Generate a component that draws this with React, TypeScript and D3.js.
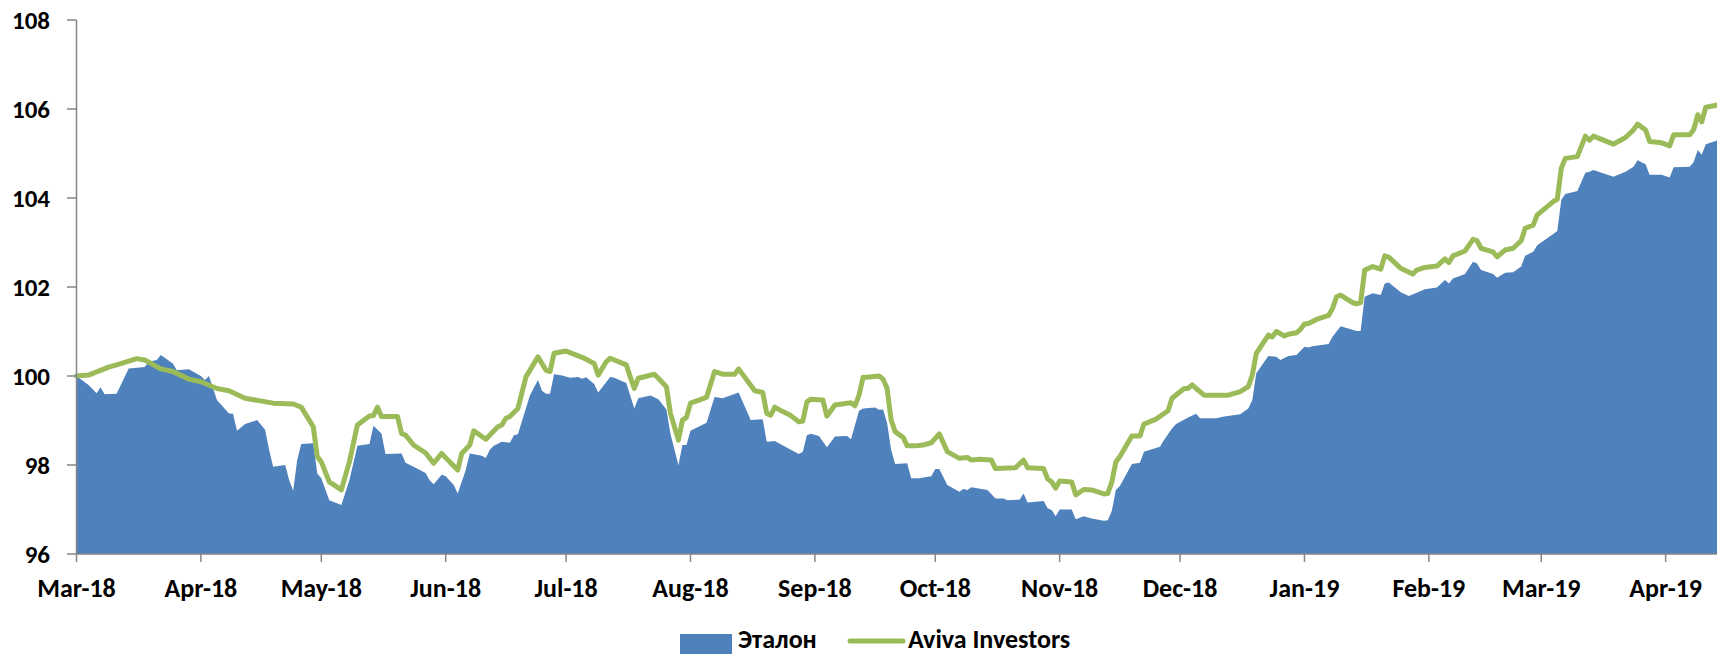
import React from "react";
import * as d3 from "d3";

// Эталон (benchmark), area series
const etalon: [string, number][] = [
  ["2018-03-01",100.0],["2018-03-04",99.8],["2018-03-06",99.61],["2018-03-07",99.75],["2018-03-08",99.59],["2018-03-11",99.6],["2018-03-14",100.17],["2018-03-18",100.2],["2018-03-19",100.32],["2018-03-21",100.36],["2018-03-22",100.47],["2018-03-25",100.28],["2018-03-26",100.13],["2018-03-29",100.15],
  ["2018-04-01",100.0],["2018-04-02",99.91],["2018-04-03",100.0],["2018-04-05",99.46],["2018-04-08",99.16],["2018-04-09",99.15],["2018-04-10",98.77],["2018-04-12",98.92],["2018-04-15",99.01],["2018-04-17",98.79],["2018-04-18",98.34],["2018-04-19",97.96],["2018-04-22",98.0],["2018-04-23",97.66],["2018-04-24",97.42],["2018-04-25",98.11],["2018-04-26",98.47],["2018-04-29",98.49],["2018-04-30",97.81],
  ["2018-05-01",97.7],["2018-05-03",97.21],["2018-05-06",97.1],["2018-05-08",97.66],["2018-05-10",98.43],["2018-05-13",98.47],["2018-05-14",98.88],["2018-05-16",98.71],["2018-05-17",98.25],["2018-05-21",98.26],["2018-05-22",98.05],["2018-05-24",97.96],["2018-05-27",97.82],["2018-05-28",97.66],["2018-05-29",97.57],["2018-05-31",97.78],
  ["2018-06-01",97.75],["2018-06-03",97.55],["2018-06-04",97.36],["2018-06-06",97.89],["2018-06-07",98.26],["2018-06-10",98.21],["2018-06-11",98.16],["2018-06-12",98.34],["2018-06-13",98.43],["2018-06-15",98.52],["2018-06-17",98.5],["2018-06-18",98.67],["2018-06-19",98.69],["2018-06-22",99.57],["2018-06-24",99.91],["2018-06-25",99.67],["2018-06-26",99.6],["2018-06-27",99.6],["2018-06-28",100.04],["2018-06-30",100.01],
  ["2018-07-02",99.96],["2018-07-04",99.98],["2018-07-05",99.94],["2018-07-06",99.97],["2018-07-08",99.82],["2018-07-09",99.63],["2018-07-12",99.98],["2018-07-13",99.96],["2018-07-16",99.84],["2018-07-18",99.27],["2018-07-19",99.5],["2018-07-22",99.56],["2018-07-24",99.48],["2018-07-26",99.25],["2018-07-27",98.7],["2018-07-29",98.0],["2018-07-30",98.45],["2018-07-31",98.45],
  ["2018-08-01",98.77],["2018-08-05",98.95],["2018-08-07",99.53],["2018-08-09",99.5],["2018-08-13",99.63],["2018-08-16",99.01],["2018-08-19",99.03],["2018-08-20",98.52],["2018-08-22",98.54],["2018-08-26",98.34],["2018-08-28",98.25],["2018-08-29",98.3],["2018-08-30",98.67],["2018-08-31",98.7],
  ["2018-09-02",98.65],["2018-09-04",98.4],["2018-09-06",98.64],["2018-09-09",98.65],["2018-09-10",98.58],["2018-09-12",99.22],["2018-09-13",99.27],["2018-09-16",99.29],["2018-09-17",99.24],["2018-09-18",99.25],["2018-09-19",98.94],["2018-09-20",98.34],["2018-09-21",98.02],["2018-09-24",98.04],["2018-09-25",97.7],["2018-09-27",97.7],["2018-09-28",97.72],["2018-09-30",97.75],
  ["2018-10-01",97.91],["2018-10-02",97.91],["2018-10-04",97.55],["2018-10-07",97.4],["2018-10-08",97.46],["2018-10-09",97.44],["2018-10-10",97.5],["2018-10-14",97.44],["2018-10-16",97.25],["2018-10-18",97.25],["2018-10-19",97.21],["2018-10-22",97.22],["2018-10-23",97.36],["2018-10-24",97.16],["2018-10-28",97.19],["2018-10-29",97.03],["2018-10-30",96.99],["2018-10-31",96.85],
  ["2018-11-01",97.0],["2018-11-04",97.0],["2018-11-05",96.78],["2018-11-07",96.85],["2018-11-09",96.8],["2018-11-12",96.75],["2018-11-13",96.76],["2018-11-14",96.97],["2018-11-15",97.44],["2018-11-16",97.53],["2018-11-19",98.02],["2018-11-21",98.05],["2018-11-22",98.3],["2018-11-26",98.41],["2018-11-27",98.56],["2018-11-29",98.82],["2018-11-30",98.92],
  ["2018-12-03",99.07],["2018-12-05",99.15],["2018-12-06",99.05],["2018-12-10",99.05],["2018-12-12",99.09],["2018-12-16",99.14],["2018-12-18",99.27],["2018-12-19",99.46],["2018-12-20",100.06],["2018-12-23",100.45],["2018-12-25",100.43],["2018-12-26",100.36],["2018-12-28",100.45],["2018-12-30",100.47],
  ["2019-01-01",100.66],["2019-01-02",100.64],["2019-01-03",100.67],["2019-01-07",100.72],["2019-01-08",100.88],["2019-01-10",101.12],["2019-01-14",101.01],["2019-01-15",101.01],["2019-01-16",101.78],["2019-01-18",101.86],["2019-01-20",101.82],["2019-01-21",102.08],["2019-01-22",102.1],["2019-01-25",101.88],["2019-01-27",101.8],["2019-01-29",101.87],["2019-01-31",101.95],
  ["2019-02-03",101.99],["2019-02-05",102.16],["2019-02-06",102.08],["2019-02-07",102.19],["2019-02-10",102.29],["2019-02-12",102.57],["2019-02-13",102.53],["2019-02-14",102.38],["2019-02-17",102.29],["2019-02-18",102.21],["2019-02-20",102.32],["2019-02-22",102.33],["2019-02-24",102.46],["2019-02-25",102.7],["2019-02-27",102.79],["2019-02-28",102.94],
  ["2019-03-04",103.19],["2019-03-05",103.26],["2019-03-06",103.96],["2019-03-07",104.09],["2019-03-10",104.16],["2019-03-12",104.57],["2019-03-13",104.59],["2019-03-14",104.63],["2019-03-19",104.48],["2019-03-22",104.59],["2019-03-24",104.7],["2019-03-25",104.85],["2019-03-27",104.76],["2019-03-28",104.52],["2019-03-31",104.52],
  ["2019-04-02",104.46],["2019-04-03",104.69],["2019-04-07",104.7],["2019-04-08",104.81],["2019-04-09",105.08],["2019-04-10",104.97],["2019-04-11",105.21],["2019-04-14",105.3]
];

// Aviva Investors, line series
const aviva: [string, number][] = [
  ["2018-03-01",100.0],["2018-03-04",100.02],["2018-03-09",100.2],["2018-03-11",100.25],["2018-03-16",100.39],["2018-03-18",100.36],["2018-03-22",100.16],["2018-03-25",100.1],["2018-03-29",99.93],
  ["2018-04-01",99.87],["2018-04-05",99.72],["2018-04-08",99.67],["2018-04-12",99.5],["2018-04-19",99.39],["2018-04-24",99.37],["2018-04-26",99.3],["2018-04-29",98.86],["2018-04-30",98.19],
  ["2018-05-01",98.07],["2018-05-03",97.62],["2018-05-06",97.44],["2018-05-08",98.07],["2018-05-10",98.9],["2018-05-13",99.1],["2018-05-14",99.11],["2018-05-15",99.3],["2018-05-16",99.09],["2018-05-20",99.09],["2018-05-21",98.71],["2018-05-22",98.67],["2018-05-24",98.45],["2018-05-27",98.27],["2018-05-29",98.04],["2018-05-31",98.26],
  ["2018-06-02",98.07],["2018-06-04",97.89],["2018-06-05",98.26],["2018-06-07",98.45],["2018-06-08",98.77],["2018-06-11",98.58],["2018-06-14",98.86],["2018-06-15",98.9],["2018-06-16",99.05],["2018-06-17",99.09],["2018-06-19",99.27],["2018-06-21",99.98],["2018-06-24",100.43],["2018-06-26",100.13],["2018-06-27",100.1],["2018-06-28",100.51],
  ["2018-07-01",100.56],["2018-07-05",100.42],["2018-07-08",100.28],["2018-07-09",100.02],["2018-07-11",100.32],["2018-07-12",100.4],["2018-07-16",100.25],["2018-07-17",99.98],["2018-07-18",99.72],["2018-07-19",99.95],["2018-07-23",100.04],["2018-07-24",99.95],["2018-07-26",99.76],["2018-07-27",99.16],["2018-07-29",98.56],["2018-07-30",99.01],["2018-07-31",99.07],
  ["2018-08-01",99.39],["2018-08-05",99.52],["2018-08-07",100.1],["2018-08-09",100.04],["2018-08-12",100.04],["2018-08-13",100.16],["2018-08-17",99.67],["2018-08-19",99.63],["2018-08-20",99.16],["2018-08-21",99.12],["2018-08-22",99.3],["2018-08-24",99.2],["2018-08-26",99.11],["2018-08-28",98.97],["2018-08-29",98.99],["2018-08-30",99.42],["2018-08-31",99.48],
  ["2018-09-03",99.46],["2018-09-04",99.1],["2018-09-06",99.35],["2018-09-10",99.4],["2018-09-11",99.33],["2018-09-12",99.57],["2018-09-13",99.97],["2018-09-14",99.97],["2018-09-17",100.0],["2018-09-18",99.93],["2018-09-19",99.72],["2018-09-20",99.01],["2018-09-21",98.75],["2018-09-23",98.62],["2018-09-24",98.43],["2018-09-26",98.43],["2018-09-28",98.45],["2018-09-30",98.5],
  ["2018-10-01",98.6],["2018-10-02",98.7],["2018-10-04",98.3],["2018-10-07",98.15],["2018-10-09",98.17],["2018-10-10",98.11],["2018-10-12",98.13],["2018-10-15",98.11],["2018-10-16",97.92],["2018-10-21",97.94],["2018-10-23",98.11],["2018-10-24",97.94],["2018-10-28",97.92],["2018-10-29",97.69],["2018-10-30",97.62],["2018-10-31",97.48],
  ["2018-11-01",97.64],["2018-11-04",97.62],["2018-11-05",97.33],["2018-11-07",97.45],["2018-11-09",97.44],["2018-11-12",97.35],["2018-11-13",97.36],["2018-11-14",97.62],["2018-11-15",98.07],["2018-11-16",98.19],["2018-11-19",98.65],["2018-11-21",98.65],["2018-11-22",98.92],["2018-11-25",99.03],["2018-11-28",99.22],["2018-11-29",99.5],
  ["2018-12-02",99.72],["2018-12-03",99.72],["2018-12-04",99.8],["2018-12-05",99.72],["2018-12-07",99.57],["2018-12-13",99.57],["2018-12-16",99.65],["2018-12-18",99.76],["2018-12-19",100.02],["2018-12-20",100.51],["2018-12-23",100.92],["2018-12-24",100.88],["2018-12-25",101.0],["2018-12-27",100.9],["2018-12-28",100.94],["2018-12-30",100.97],["2018-12-31",101.05],
  ["2019-01-01",101.17],["2019-01-02",101.18],["2019-01-04",101.27],["2019-01-07",101.36],["2019-01-08",101.52],["2019-01-09",101.78],["2019-01-10",101.82],["2019-01-13",101.65],["2019-01-14",101.62],["2019-01-15",101.65],["2019-01-16",102.38],["2019-01-18",102.46],["2019-01-20",102.4],["2019-01-21",102.7],["2019-01-22",102.67],["2019-01-25",102.42],["2019-01-28",102.29],["2019-01-29",102.38],["2019-01-31",102.44],
  ["2019-02-03",102.47],["2019-02-05",102.63],["2019-02-06",102.55],["2019-02-07",102.7],["2019-02-10",102.81],["2019-02-12",103.07],["2019-02-13",103.04],["2019-02-14",102.87],["2019-02-17",102.79],["2019-02-18",102.68],["2019-02-20",102.83],["2019-02-22",102.87],["2019-02-24",103.04],["2019-02-25",103.32],["2019-02-27",103.39],["2019-02-28",103.62],
  ["2019-03-04",103.92],["2019-03-05",103.97],["2019-03-06",104.67],["2019-03-07",104.89],["2019-03-10",104.93],["2019-03-12",105.39],["2019-03-13",105.3],["2019-03-14",105.39],["2019-03-19",105.21],["2019-03-22",105.36],["2019-03-24",105.53],["2019-03-25",105.66],["2019-03-27",105.53],["2019-03-28",105.27],["2019-03-31",105.24],
  ["2019-04-02",105.17],["2019-04-03",105.42],["2019-04-07",105.42],["2019-04-08",105.54],["2019-04-09",105.87],["2019-04-10",105.71],["2019-04-11",106.04],["2019-04-14",106.09]
];

const yTicks = [96, 98, 100, 102, 104, 106, 108];
const legendLabels = ["Эталон", "Aviva Investors"];

const W = 1717;
const H = 654;
const FONT = "Carlito, Calibri, Lato, 'Open Sans', sans-serif";
const AXIS = "#868686";
const BLUE = "#4F81BD";
const GREEN = "#9BBB59";

const parse = d3.timeParse("%Y-%m-%d");
const fmt = d3.timeFormat("%b-%y");

export default function App() {
  const start = parse("2018-03-01") as Date;
  const end = parse("2019-04-14") as Date;
  const x = d3.scaleTime().domain([start, end]).range([76.5, 1717.8]);
  const y = d3.scaleLinear().domain([96, 108]).range([554, 20]);

  const et = etalon.map(([d, v]) => ({ date: parse(d) as Date, value: v }));
  const av = aviva.map(([d, v]) => ({ date: parse(d) as Date, value: v }));

  const area = d3.area<{ date: Date; value: number }>()
    .x((d) => x(d.date))
    .y0(y(96))
    .y1((d) => y(d.value));
  const line = d3.line<{ date: Date; value: number }>()
    .x((d) => x(d.date))
    .y((d) => y(d.value));

  const months = d3.timeMonth.range(start, d3.timeDay.offset(end, 1));

  return (
    <svg width={W} height={H} style={{ position: "absolute", left: 0, top: 0, display: "block" }} fontFamily={FONT}>
      <rect width={W} height={H} fill="#fff" />
      <path d={area(et) || ""} fill={BLUE} />
      <path d={line(av) || ""} fill="none" stroke={GREEN} strokeWidth={5} strokeLinejoin="round" strokeLinecap="round" />

      {/* y axis */}
      <line x1={76.5} x2={76.5} y1={y(108)} y2={y(96)} stroke={AXIS} strokeWidth={1.5} />
      {yTicks.map((t) => (
        <g key={t}>
          <line x1={67} x2={76.5} y1={y(t)} y2={y(t)} stroke={AXIS} strokeWidth={1.5} />
          <text x={50} y={y(t)} dy="0.36em" textAnchor="end" fontSize={25} fontWeight="bold" fill="#000">{t}</text>
        </g>
      ))}

      {/* x axis */}
      <line x1={76.5} x2={W} y1={y(96)} y2={y(96)} stroke={AXIS} strokeWidth={1.5} />
      {months.map((m) => (
        <g key={m.getTime()}>
          <line x1={x(m)} x2={x(m)} y1={y(96)} y2={y(96) + 8} stroke={AXIS} strokeWidth={1.5} />
          <text x={x(m)} y={597} textAnchor="middle" fontSize={26} fontWeight="bold" fill="#000">{fmt(m)}</text>
        </g>
      ))}

      {/* legend */}
      <rect x={680} y={634} width={52} height={20} fill={BLUE} />
      <text x={738} y={648} fontSize={26} fontWeight="bold" fill="#000">{legendLabels[0]}</text>
      <line x1={850} x2={903} y1={641} y2={641} stroke={GREEN} strokeWidth={5} strokeLinecap="round" />
      <text x={908} y={648} fontSize={26} fontWeight="bold" fill="#000">{legendLabels[1]}</text>
    </svg>
  );
}
